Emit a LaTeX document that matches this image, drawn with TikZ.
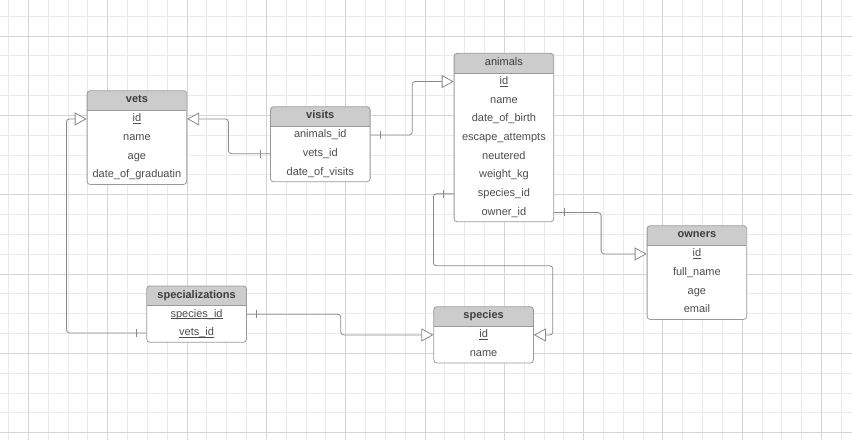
\documentclass[tikz,border=0pt]{standalone}
\usepackage{fontspec}
\setmainfont{Liberation Sans}
\usetikzlibrary{arrows.meta,backgrounds,calc,decorations.markings,fit,positioning}
\definecolor{gridminor}{HTML}{EAEAEA}
\definecolor{gridmajor}{HTML}{D4D4D4}
\definecolor{headfill}{HTML}{CCCCCC}
\definecolor{tableline}{HTML}{999999}
\definecolor{linkline}{HTML}{8A8A8A}
\definecolor{fieldtext}{HTML}{4D4D4D}
\definecolor{titletext}{HTML}{3D3D3D}
\tikzset{
    er diagram/.style   = {x=1pt, y=-1pt,
                           >={Triangle[length=12pt, width=13pt, fill=white]}},
    entity/.style       = {draw=tableline, line width=0.8pt, fill=white,
                           rounded corners=3pt, inner sep=0pt,
                           path picture={
                             \fill[headfill, sharp corners]
                               (path picture bounding box.north west) rectangle
                               ([yshift=-\headband]path picture bounding box.north east);
                             \draw[tableline, line width=0.8pt, sharp corners]
                               ([yshift=-\headband]path picture bounding box.north west) --
                               ([yshift=-\headband]path picture bounding box.north east);}},
    entity title/.style = {anchor=north, minimum width=\entitywidth,
                           minimum height=18.5pt, inner sep=0pt,
                           font=\fontsize{11}{13}\selectfont\bfseries,
                           text=titletext, text height=8pt, text depth=2.5pt},
    field/.style        = {minimum width=\entitywidth, minimum height=\fieldheight,
                           inner sep=0pt, font=\fontsize{11}{13}\selectfont,
                           text=fieldtext, text height=8pt, text depth=2.5pt},
    relation/.style     = {draw=linkline, line width=0.8pt, rounded corners=3pt, ->},
    one/.style          = {postaction={decorate, decoration={markings,
                           mark=at position 10pt with
                           {\draw[-, linkline, line width=0.8pt] (0,-4pt) -- (0,4pt);}}}},
    grid line/.style    = {draw=gridminor, line width=0.8pt},
    grid major/.style   = {draw=gridmajor, line width=0.8pt}
}
\def\entitywidth{99.2pt}
\def\headband{19.6pt}
\def\fieldheight{18.3pt}
\newcommand\keyfield[1]{\underline{\smash{#1}}}

\begin{document}
\begin{tikzpicture}[er diagram]
\useasboundingbox (0,0) rectangle (852,440);

% Paper grid of the drawing canvas.
\begin{scope}[on background layer]
    \fill[white] (0,0) rectangle (852,440);
    \foreach \k in {0,...,42} \draw[grid line] ({8.5+19.83*\k},0) -- ++(0,440);
    \foreach \k in {0,...,21} \draw[grid line] (0,{16.17+19.83*\k}) -- ++(852,0);
    \foreach \k in {0,...,10} \draw[grid major] ({28.3+79.32*\k},0) -- ++(0,440);
    \foreach \k in {0,...,5} \draw[grid major] (0,{36+79.32*\k}) -- ++(852,0);
\end{scope}

% vets
\node[entity title] (vets-title) at (136.9,90.7) {vets};
\node[field, below=0pt of vets-title] (vets-id) {\keyfield{id}};
\node[field, below=0pt of vets-id] (vets-name) {name};
\node[field, below=0pt of vets-name] (vets-age) {age};
\node[field, below=0pt of vets-age] (vets-grad) {date\_of\_graduatin};

% visits
\node[entity title] (visits-title) at (320.3,106.7) {visits};
\node[field, below=0pt of visits-title] (visits-animal) {animals\_id};
\node[field, below=0pt of visits-animal] (visits-vet) {vets\_id};
\node[field, below=0pt of visits-vet] (visits-date) {date\_of\_visits};

% animals
\node[entity title, font=\fontsize{11}{13}\selectfont]
    (animals-title) at (503.9,53.3) {animals};
\node[field, below=0pt of animals-title] (animals-id) {\keyfield{id}};
\node[field, below=0pt of animals-id] (animals-name) {name};
\node[field, below=0pt of animals-name] (animals-birth) {date\_of\_birth};
\node[field, below=0pt of animals-birth] (animals-escape) {escape\_attempts};
\node[field, below=0pt of animals-escape] (animals-neutered) {neutered};
\node[field, below=0pt of animals-neutered] (animals-weight) {weight\_kg};
\node[field, below=0pt of animals-weight] (animals-species) {species\_id};
\node[field, below=0pt of animals-species] (animals-owner) {owner\_id};

% owners
\node[entity title] (owners-title) at (696.9,225.7) {owners};
\node[field, below=0pt of owners-title] (owners-id) {\keyfield{id}};
\node[field, below=0pt of owners-id] (owners-name) {full\_name};
\node[field, below=0pt of owners-name] (owners-age) {age};
\node[field, below=0pt of owners-age] (owners-email) {email};

% species
\node[entity title] (species-title) at (483.6,306.7) {species};
\node[field, below=0pt of species-title] (species-id) {\keyfield{id}};
\node[field, below=0pt of species-id] (species-name) {name};

% specializations
\node[entity title] (spec-title) at (196.6,286) {specializations};
\node[field, below=0pt of spec-title] (spec-species) {\keyfield{species\_id}};
\node[field, below=0pt of spec-species] (spec-vet) {\keyfield{vets\_id}};

% Table outlines with grey header band.
\begin{scope}[on background layer]
    \node[entity, fit=(vets-title)(vets-grad)] (vets) {};
    \node[entity, fit=(visits-title)(visits-date)] (visits) {};
    \node[entity, fit=(animals-title)(animals-owner)] (animals) {};
    \node[entity, fit=(owners-title)(owners-email)] (owners) {};
    \node[entity, fit=(species-title)(species-name)] (species) {};
    \node[entity, fit=(spec-title)(spec-vet)] (spec) {};
\end{scope}

% Foreign keys point to the referenced primary key.
\draw[relation, one] (visits-vet -| visits.west) -- ++(-41.7,0)
    |- (vets-id -| vets.east);
\draw[relation, one] (visits-animal -| visits.east) -- ++(41.7,0)
    |- (animals-id -| animals.west);
\draw[relation, one] (animals-species -| animals.west) -- ++(-20.3,0)
    -- ++(0,72) -- ++(119.3,0) |- (species-id -| species.east);
\draw[relation, one] (animals-owner -| animals.east) -- ++(47,0)
    |- (owners-id -| owners.west);
\draw[relation, one] (spec-species -| spec.east) -- ++(94,0)
    |- (species-id -| species.west);
\draw[relation, one] (spec-vet -| spec.west) -- ++(-80,0)
    |- (vets-id -| vets.west);

\end{tikzpicture}
\end{document}
